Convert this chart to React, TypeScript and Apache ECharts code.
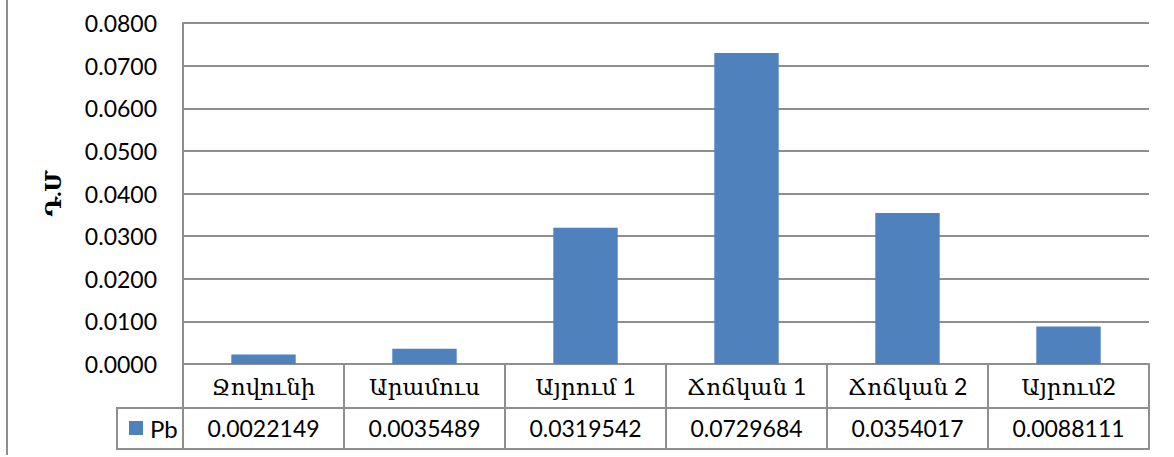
import React, { useEffect, useRef } from "react";
import * as echarts from "echarts";

const categories = ["Ջովունի", "Արամուս", "Այրում 1", "Ճոճկան 1", "Ճոճկան 2", "Այրում2"];
const pbValues = [0.0022149, 0.0035489, 0.0319542, 0.0729684, 0.0354017, 0.0088111];
const seriesName = "Pb";
const yAxisTitle = "Դ.Մ";
const yMin = 0;
const yMax = 0.08;
const yStep = 0.01;

const FONT = "Lato, 'DejaVu Serif', serif";
const GRID_COLOR = "#8e8e8e";
const BAR_COLOR = "#4f81bd";

export default function App() {
  const ref = useRef<HTMLDivElement>(null);
  useEffect(() => {
    if (!ref.current) return;
    const chart = echarts.init(ref.current, undefined, { renderer: "svg" });
    const gridLeft = 183;
    const gridRight = 1174 - 1149;
    const gridTop = 23;
    const gridBottom = 457 - 364;
    const rowH = 44;
    const tableBottom = 449;
    chart.setOption({
      animation: false,
      backgroundColor: "#ffffff",
      textStyle: { fontFamily: FONT },
      grid: { left: gridLeft, right: gridRight, top: gridTop, bottom: gridBottom, containLabel: false },
      legend: {
        data: [seriesName],
        left: 124,
        top: 411,
        icon: "rect",
        itemWidth: 14,
        itemHeight: 14,
        itemGap: 4,
        textStyle: { fontSize: 24, color: "#000", fontFamily: FONT, padding: [0, 0, 0, 2] },
      },
      xAxis: [
        {
          type: "category",
          data: categories,
          position: "bottom",
          axisLine: { show: true, lineStyle: { color: GRID_COLOR, width: 2 } },
          axisTick: { show: true, length: tableBottom - 364, lineStyle: { color: GRID_COLOR, width: 2 } },
          axisLabel: { color: "#000", fontSize: 23, fontFamily: FONT, margin: 10 },
          splitLine: { show: false },
        },
        {
          type: "category",
          data: categories,
          position: "bottom",
          offset: rowH,
          axisLine: { show: true, lineStyle: { color: GRID_COLOR, width: 2 } },
          axisTick: { show: false },
          axisLabel: {
            color: "#000",
            fontSize: 23,
            fontFamily: FONT,
            margin: 8,
            formatter: (_v: string, i: number) => pbValues[i].toFixed(7),
          },
        },
        {
          type: "category",
          data: categories,
          position: "bottom",
          offset: tableBottom - 364,
          axisLine: { show: true, lineStyle: { color: GRID_COLOR, width: 2 } },
          axisTick: { show: false },
          axisLabel: { show: false },
        },
      ],
      yAxis: {
        type: "value",
        min: yMin,
        max: yMax,
        interval: yStep,
        name: yAxisTitle,
        nameLocation: "middle",
        nameRotate: 90,
        nameGap: 120,
        nameTextStyle: { fontSize: 22, fontWeight: "bold", color: "#000", fontFamily: FONT },
        axisLine: { show: true, lineStyle: { color: GRID_COLOR, width: 2 } },
        axisTick: { show: false },
        axisLabel: {
          color: "#000",
          fontSize: 23,
          fontFamily: FONT,
          margin: 26,
          formatter: (v: number) => v.toFixed(4),
        },
        splitLine: { show: true, lineStyle: { color: GRID_COLOR, width: 2 } },
      },
      series: [
        {
          name: seriesName,
          type: "bar",
          xAxisIndex: 0,
          data: pbValues,
          barWidth: "40%",
          itemStyle: { color: BAR_COLOR },
        },
      ],
      graphic: [
        {
          type: "rect",
          shape: { x: 117, y: 364 + rowH, width: gridLeft - 117, height: tableBottom - 364 - rowH },
          style: { fill: "none", stroke: GRID_COLOR, lineWidth: 2 },
          z: 10,
        },
        {
          type: "line",
          shape: { x1: 7, y1: 0, x2: 7, y2: 455 },
          style: { stroke: GRID_COLOR, lineWidth: 2 },
        },
      ],
    });
    return () => chart.dispose();
  }, []);
  return (
    <div
      ref={ref}
      style={{ position: "fixed", left: 0, top: 0, width: 1174, height: 457, background: "#fff" }}
    />
  );
}
